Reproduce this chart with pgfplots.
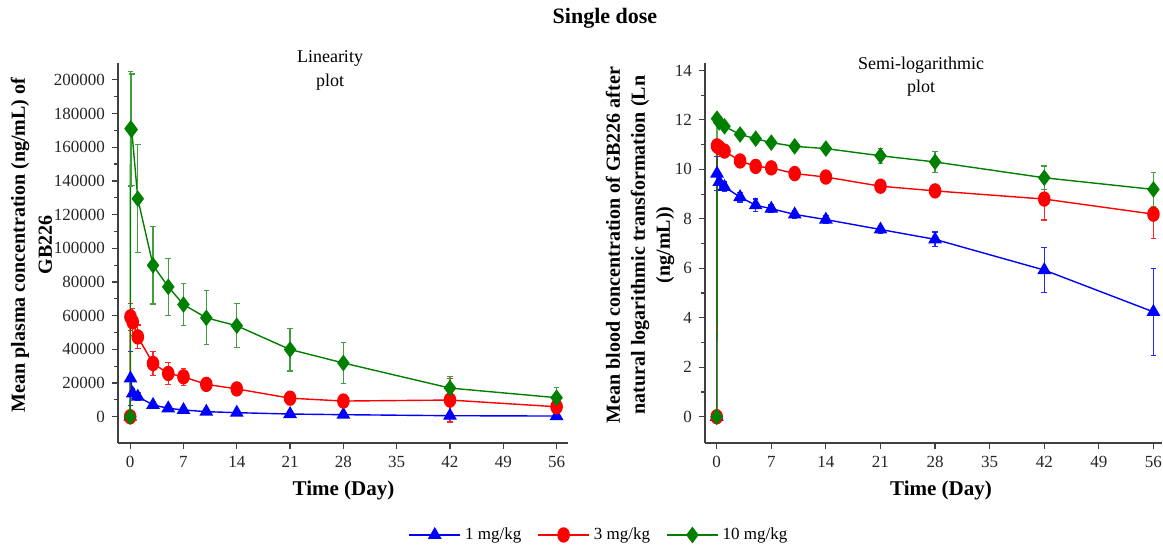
\documentclass[border=0pt]{standalone}
\usepackage{fontspec}
\setmainfont{Liberation Serif}
\usepackage{pgfplots}
\usepackage{pgfplotstable}
\pgfplotsset{compat=1.18}
\definecolor{cB}{RGB}{0,0,255}
\definecolor{cR}{RGB}{255,0,0}
\definecolor{cG}{RGB}{0,128,0}

% linear scale (ng/mL): time, mean, SD
\pgfplotstableread{
t m e
0 0 0
0.04 22700 16000
0.33 13800 3000
1 11900 2500
3 7000 1500
5 5000 1000
7 4000 800
10 3000 600
14 2400 500
21 1600 400
28 1200 400
42 600 300
56 400 300
}\linB
\pgfplotstableread{
t m e
0 0 0
0.04 59300 8000
0.33 56300 8000
1 47400 7000
3 31600 7000
5 25700 6500
7 23700 5000
10 19200 2500
14 16500 2000
21 11000 2000
28 9300 1500
42 9900 13000
56 5900 3000
}\linR
\pgfplotstableread{
t m e
0 0 0
0.04 171000 34000
0.2 170500 33000
1 129400 32000
3 89900 23000
5 77100 17000
7 66600 12500
10 58700 16000
14 54000 13000
21 39900 12700
28 31900 12000
42 17000 7000
56 11300 6000
}\linG

% Ln scale
\pgfplotstableread{
t m e
0 0 0
0.04 9.83 0.7
0.33 9.49 0.3
1 9.29 0.2
3 8.88 0.2
5 8.55 0.25
7 8.41 0.15
10 8.18 0.15
14 7.97 0.15
21 7.57 0.15
28 7.17 0.3
42 5.93 0.92
56 4.24 1.76
}\lnB
\pgfplotstableread{
t m e
0 0 0
0.04 10.95 0.15
0.33 10.88 0.15
1 10.74 0.15
3 10.34 0.15
5 10.12 0.2
7 10.06 0.15
10 9.83 0.15
14 9.69 0.15
21 9.32 0.15
28 9.13 0.15
42 8.80 0.85
56 8.19 0.98
}\lnR
\pgfplotstableread{
t m e
0 0 0
0.04 12.05 0.12
0.33 11.9 0.12
1 11.74 0.2
3 11.41 0.15
5 11.24 0.15
7 11.08 0.15
10 10.93 0.2
14 10.84 0.15
21 10.55 0.3
28 10.30 0.42
42 9.66 0.48
56 9.19 0.68
}\lnG

\pgfplotsset{
  myax/.style={
    scale only axis, clip=false,
    axis x line*=bottom, axis y line*=left,
    axis line style={draw=black!75, line width=0.8pt, -},
    tick style={draw=black!75, line width=0.6pt},
    tick align=outside, major tick length=3pt, minor tick length=2pt,
    xtick={0,7,...,56}, minor y tick num=1,
    scaled y ticks=false,
    tick label style={font=\fontsize{8.5}{9}\selectfont, text=black!85},
    /pgf/number format/assume math mode=true,
    /pgf/number format/fixed,
    /pgf/number format/1000 sep={},
    legend image code/.code={\draw[mark repeat=2,mark phase=2]
      plot coordinates {(0cm,0cm)(0.45cm,0cm)(0.9cm,0cm)};},
  },
  serB/.style={cB, line width=0.7pt, mark=triangle*, mark size=3.3pt,
    mark options={fill=cB, draw=cB, solid},
    error bars/.cd, y dir=both, y explicit,
    error mark options={rotate=90, mark size=1.4pt, line width=0.6pt, draw=cB!85},
    error bar style={line width=0.6pt, cB!85}},
  serR/.style={cR, line width=0.7pt, mark=*, mark size=2.8pt,
    mark options={fill=cR, draw=cR, yscale=1.25, solid},
    error bars/.cd, y dir=both, y explicit,
    error mark options={rotate=90, mark size=1.4pt, line width=0.6pt, draw=cR!85},
    error bar style={line width=0.6pt, cR!85}},
  serG/.style={cG, line width=0.7pt, mark=diamond*, mark size=3.6pt,
    mark options={fill=cG, draw=cG, solid},
    error bars/.cd, y dir=both, y explicit,
    error mark options={rotate=90, mark size=1.4pt, line width=0.6pt, draw=cG!75!white},
    error bar style={line width=0.6pt, cG!75!white}},
}

\begin{document}
\begin{tikzpicture}
\path[use as bounding box] (0pt,0pt) rectangle (581.5pt,275pt);

\begin{axis}[myax, at={(59pt,53.5pt)}, anchor=south west,
  width=225pt, height=190pt,
  xmin=-1.6, xmax=57.5, ymin=-15600, ymax=210000,
  ytick={0,20000,...,200000},
  yticklabel={\pgfmathprintnumber[fixed,1000 sep={},precision=0]{\tick}},
  legend style={at={(1.071,-0.242)}, anchor=center, legend columns=3,
    draw=none, font=\fontsize{8.5}{10}\selectfont,
    /tikz/every even column/.append style={column sep=6pt}},
]
\addplot[serB] table[x=t, y=m, y error=e] {\linB};
\addlegendentry{1 mg/kg}
\addplot[serR] table[x=t, y=m, y error=e] {\linR};
\addlegendentry{3 mg/kg}
\addplot[serG] table[x=t, y=m, y error=e] {\linG};
\addlegendentry{10 mg/kg}
\end{axis}

\begin{axis}[myax, at={(352.5pt,53.5pt)}, anchor=south west,
  width=228.5pt, height=190pt,
  xmin=-1.5, xmax=57.1, ymin=-1.06, ymax=14.3,
  ytick={0,2,...,14},
]
\addplot[serB] table[x=t, y=m, y error=e] {\lnB};
\addplot[serR] table[x=t, y=m, y error=e] {\lnR};
\addplot[serG] table[x=t, y=m, y error=e] {\lnG};
\end{axis}

\node[font=\bfseries\fontsize{11}{13}\selectfont] at (302.5pt,266pt) {Single dose};
\node[rotate=90, align=center, font=\bfseries\fontsize{10}{13.5}\selectfont]
  at (15.75pt,152.5pt) {Mean plasma concentration (ng/mL) of\\GB226};
\node[rotate=90, align=center, font=\bfseries\fontsize{10}{12.5}\selectfont]
  at (320pt,152.5pt) {Mean blood concentration of GB226 after\\natural logarithmic transformation (Ln\\(ng/mL))};
\node[font=\bfseries\fontsize{10.5}{12}\selectfont] at (171.75pt,30pt) {Time (Day)};
\node[font=\bfseries\fontsize{10.5}{12}\selectfont] at (470.5pt,30pt) {Time (Day)};
\node[align=center, font=\fontsize{9}{12}\selectfont] at (165pt,240pt) {Linearity\\plot};
\node[align=center, font=\fontsize{9}{11.5}\selectfont] at (460.5pt,236.5pt) {Semi-logarithmic\\plot};
\end{tikzpicture}
\end{document}
